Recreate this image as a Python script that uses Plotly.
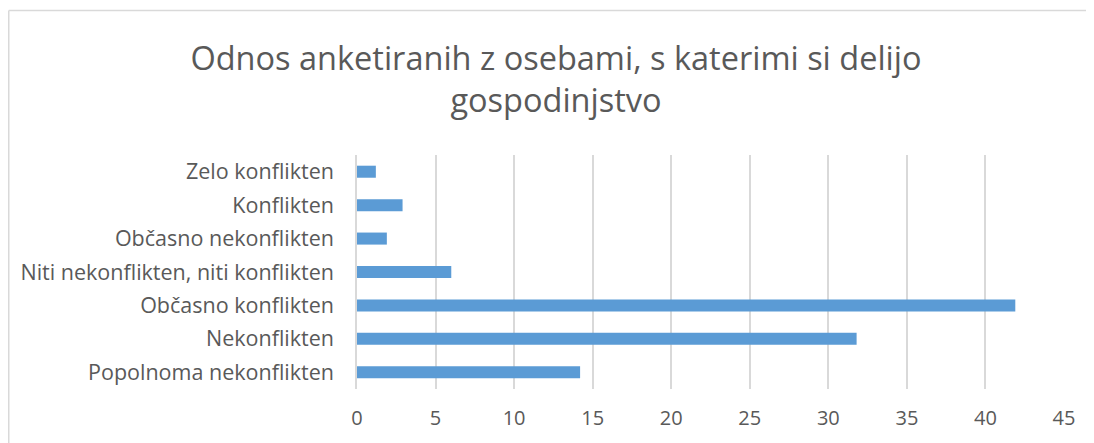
import plotly.graph_objects as go

categories = ["Popolnoma nekonflikten", "Nekonflikten", "Občasno konflikten",
              "Niti nekonflikten, niti konflikten", "Občasno nekonflikten",
              "Konflikten", "Zelo konflikten"]
values = [14.2, 31.8, 41.9, 6.0, 1.9, 2.9, 1.2]
x_ticks = [0, 5, 10, 15, 20, 25, 30, 35, 40, 45]

# page body has an 8px margin, so the figure is sized/offset to compensate
OFF = 8
W, H = 1094 - OFF, 443 - OFF
L = 357 - OFF
R = W - (1064 - OFF)
T = 155 - OFF
B = H - (389 - OFF)

fig = go.Figure(go.Bar(
    y=categories, x=values, orientation="h",
    marker=dict(color="#5B9BD5", line=dict(width=0)),
    width=0.36,
))

font_family = "Open Sans, Liberation Sans, Arial, sans-serif"
fig.update_layout(
    width=W, height=H,
    margin=dict(l=L, r=R, t=T, b=B),
    paper_bgcolor="white", plot_bgcolor="white",
    showlegend=False,
    title=dict(
        text="Odnos anketiranih z osebami, s katerimi si delijo<br>gospodinjstvo",
        x=(556 - OFF) / W, xanchor="center", xref="container",
        y=1 - (70 - OFF) / H, yanchor="middle", yref="container",
        font=dict(family=font_family, size=32.5, color="#595959"),
    ),
)
fig.update_xaxes(
    range=[0, 45], tickvals=x_ticks, ticktext=[str(v) for v in x_ticks],
    showgrid=True, gridcolor="#d9d9d9", gridwidth=1.5,
    zeroline=False, showline=False, ticks="",
    tickfont=dict(family=font_family, size=20, color="#595959"),
    ticklabelstandoff=15,
)
fig.update_yaxes(
    categoryorder="array", categoryarray=categories,
    showgrid=False, zeroline=False,
    showline=True, linecolor="#d9d9d9", linewidth=1.5,
    ticks="", tickfont=dict(family=font_family, size=21.5, color="#595959"),
    ticklabelstandoff=17,
)

pw = W - L - R
ph = H - T - B
def px_to_paper_x(px):
    return (px - OFF - L) / pw
def px_to_paper_y(py):
    return (H - B - (py - OFF)) / ph

border = dict(color="#d9d9d9", width=1.5)
# left edge of chart frame
fig.add_shape(type="line", xref="paper", yref="paper", layer="below",
              x0=px_to_paper_x(8.75), x1=px_to_paper_x(8.75),
              y0=px_to_paper_y(460), y1=px_to_paper_y(10.5), line=border)
# top edge of chart frame
fig.add_shape(type="line", xref="paper", yref="paper", layer="below",
              x0=px_to_paper_x(8.75), x1=px_to_paper_x(1110),
              y0=px_to_paper_y(10.5), y1=px_to_paper_y(10.5), line=border)

fig.write_html("out.html")
